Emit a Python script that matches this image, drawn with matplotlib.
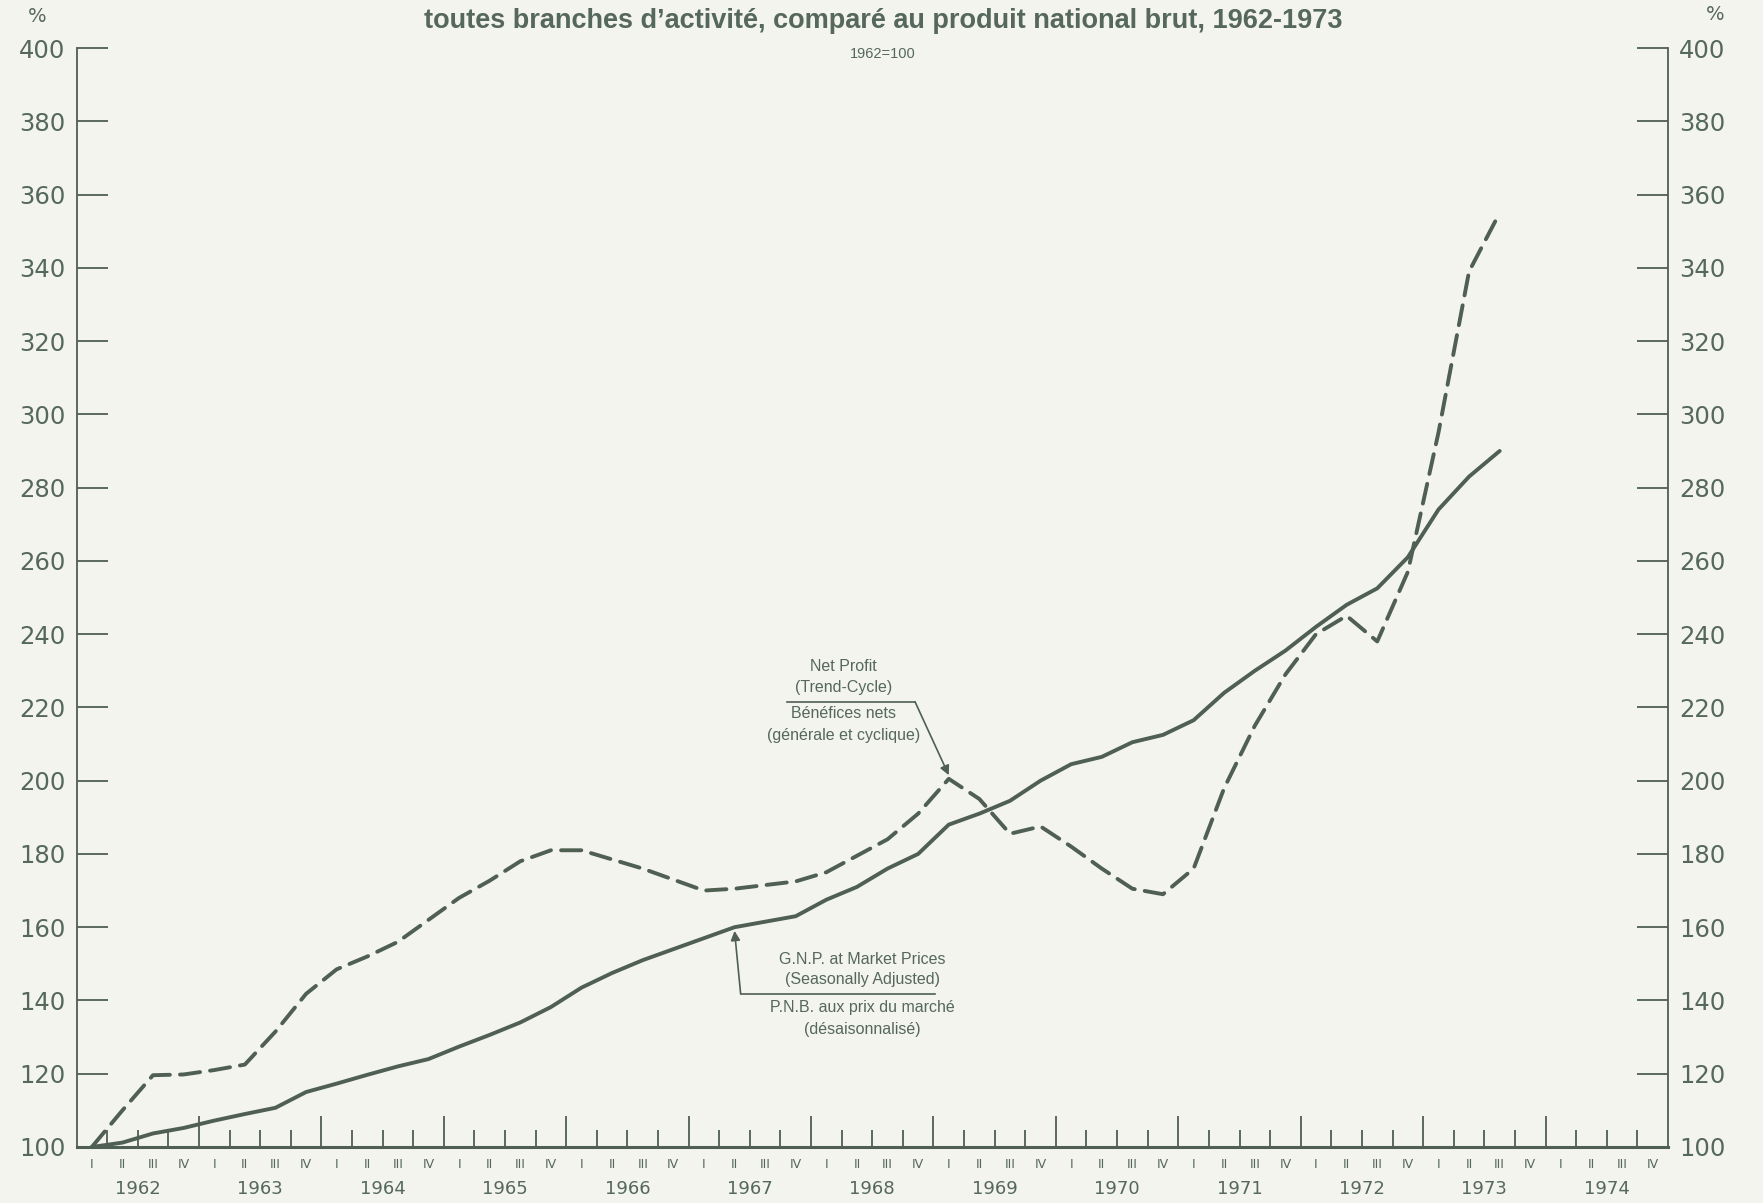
import numpy as np
import matplotlib
matplotlib.use('Agg')
import matplotlib.pyplot as plt

# quarterly index, 1962 I .. 1973 III (1962=100)
gnp = [100, 101.2, 103.7, 105.2, 107.2, 109, 110.7, 115, 117.3, 119.7,
       122, 124, 127.4, 130.6, 134, 138.2, 143.5, 147.5, 151, 154,
       157, 160, 161.5, 163, 167.5, 171, 176, 180, 188, 191,
       194.5, 200, 204.5, 206.5, 210.5, 212.5, 216.5, 224, 230, 235.5,
       242, 248, 252.5, 261, 274, 283, 290]
profit = [100, 110, 119.6, 119.8, 121, 122.5, 131.5, 141.8, 148.5, 152,
          156, 162, 168, 172.7, 178, 181, 181, 178.5, 176, 173,
          170, 170.5, 171.5, 172.5, 175, 179.5, 184, 191, 200.5, 195,
          185.5, 187.5, 182, 176, 170.5, 169, 176, 198, 215, 229,
          240, 245, 238, 257, 295, 339, 355]
years = list(range(1962, 1975))
quarters = ['I', 'II', 'III', 'IV']
yticks = list(range(100, 401, 20))

ink = '#4f5f51'
txt = '#55685a'
bg = '#f3f4ee'
sans = ['Liberation Sans', 'DejaVu Sans']

W, H = 1763, 1203
fig = plt.figure(figsize=(W / 100, H / 100), dpi=100, facecolor=bg)
ax = fig.add_axes([76.5 / W, 56 / H, (1668 - 76.5) / W, (1147 - 48) / H])
ax.set_facecolor(bg)

nq = len(years) * 4
x = np.arange(len(gnp)) + 0.5
ax.plot(x, gnp, color=ink, lw=2.8, solid_capstyle='round', solid_joinstyle='round')
ax.plot(x, profit, color=ink, lw=2.8, linestyle=(0, (5.2, 2.6)), dash_capstyle='round')

ax.set_xlim(0, nq)
ax.set_ylim(100, 400)

ax.spines['top'].set_visible(False)
for s in ['left', 'right']:
    ax.spines[s].set_color(ink)
    ax.spines[s].set_linewidth(1.3)
ax.spines['bottom'].set_color(ink)
ax.spines['bottom'].set_linewidth(2.2)

ax.set_yticks(yticks)
ax.set_yticklabels([str(v) for v in yticks])
ax.tick_params(axis='y', which='major', direction='in', length=22, width=1.3,
               color=ink, left=True, right=True, labelleft=True, labelright=True,
               labelsize=17.5, labelcolor=txt, pad=8)

major = [4 * k for k in range(1, len(years))]
minor = [q for q in range(1, nq) if q % 4]
ax.set_xticks(major)
ax.set_xticks(minor, minor=True)
ax.set_xticklabels([])
ax.tick_params(axis='x', which='major', direction='in', length=22, width=1.3, color=ink)
ax.tick_params(axis='x', which='minor', direction='in', length=12, width=1.3, color=ink)

tr = ax.get_xaxis_transform()
for q in range(nq):
    ax.text(q + 0.5, -0.016, quarters[q % 4], transform=tr, ha='center', va='center',
            fontsize=9, color=txt)
for k, yr in enumerate(years):
    ax.text(4 * k + 2, -0.038, str(yr), transform=tr, ha='center', va='center',
            fontsize=13, color=txt)

fig.text(37 / W, 1 - 17 / H, '%', ha='center', va='center', fontsize=14, color=txt)
fig.text(1715 / W, 1 - 14 / H, '%', ha='center', va='center', fontsize=14, color=txt)

fig.text(883 / W, 1 - 21 / H,
         'toutes branches d\u2019activit\u00e9, compar\u00e9 au produit national brut, 1962-1973',
         ha='center', va='center', fontsize=19.5, fontweight='bold', color=txt,
         family=sans)
fig.text(883 / W, 1 - 54 / H, '1962=100', ha='center', va='center', fontsize=10.5,
         color=txt, family=sans)

# annotation: net profit
afs = 11.5
cx = 25.05
for yv, s in [(231.3, 'Net Profit'), (225.5, '(Trend-Cycle)'),
              (218.2, 'B\u00e9n\u00e9fices nets'), (212.4, '(g\u00e9n\u00e9rale et cyclique)')]:
    ax.text(cx, yv, s, ha='center', va='center', fontsize=afs, color=txt, family=sans)
ax.plot([23.2, 27.4], [221.5, 221.5], color=ink, lw=1.2)
ax.annotate('', xy=(x[28], profit[28] + 1), xytext=(27.4, 221.5),
            arrowprops=dict(arrowstyle='-|>', color=ink, lw=1.2, mutation_scale=14,
                            shrinkA=0, shrinkB=0))

# annotation: GNP
cx = 25.67
for yv, s in [(151.3, 'G.N.P. at Market Prices'), (145.6, '(Seasonally Adjusted)'),
              (138.2, 'P.N.B. aux prix du march\u00e9'), (132.2, '(d\u00e9saisonnalis\u00e9)')]:
    ax.text(cx, yv, s, ha='center', va='center', fontsize=afs, color=txt, family=sans)
ax.plot([21.7, 28.05], [141.8, 141.8], color=ink, lw=1.2)
ax.annotate('', xy=(x[21], gnp[21] - 1), xytext=(21.7, 141.8),
            arrowprops=dict(arrowstyle='-|>', color=ink, lw=1.2, mutation_scale=14,
                            shrinkA=0, shrinkB=0))

fig.savefig('out.png', dpi=100, facecolor=bg)
